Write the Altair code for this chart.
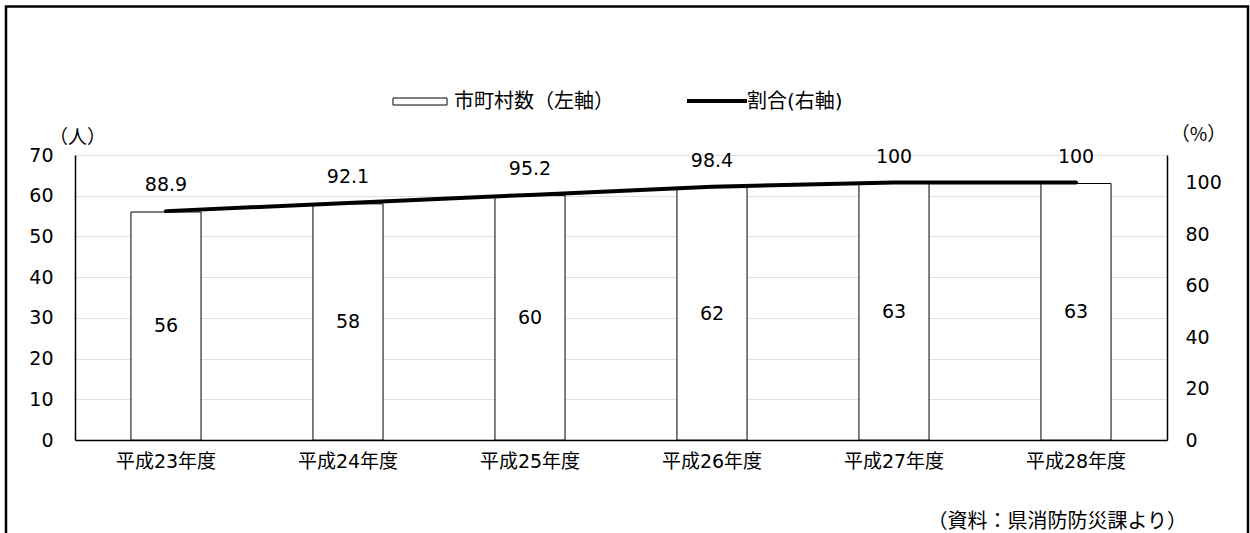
import altair as alt
import pandas as pd

categories = ["平成23年度", "平成24年度", "平成25年度", "平成26年度", "平成27年度", "平成28年度"]
counts = [56, 58, 60, 62, 63, 63]
ratios = [88.9, 92.1, 95.2, 98.4, 100, 100]
ratio_labels = ["88.9", "92.1", "95.2", "98.4", "100", "100"]

FONT = "DejaVu Sans, Noto Sans CJK JP"
CJK = "Noto Sans CJK JP"

df = pd.DataFrame({
    "cat": categories,
    "count": counts,
    "mid": [c / 2 for c in counts],
    "ratio": ratios,
    "rlabel": ratio_labels,
})

xscale = alt.Scale(domain=categories, paddingInner=0.615, paddingOuter=0.3075)
xaxis = alt.Axis(title=None, labelAngle=0, ticks=False, labelPadding=12,
                 labelFontSize=19, labelFont=FONT, labelColor="#000",
                 domainColor="#000", domainWidth=1.5, grid=False)

yleft = alt.Scale(domain=[0, 70], nice=False)
yright = alt.Scale(domain=[0, 110.7], nice=False)

left_axis = alt.Axis(title="（人）", titleAngle=0, titleX=2, titleY=-18,
                     titleAlign="center", titleBaseline="middle",
                     titleFont=CJK, titleFontSize=19, titleFontWeight="normal",
                     titleColor="#000",
                     values=[0, 10, 20, 30, 40, 50, 60, 70], ticks=False,
                     labelPadding=22, labelFontSize=19, labelFont=FONT,
                     labelColor="#000", domainColor="#000", domainWidth=1.5,
                     grid=True, gridColor="#e0e0e0", gridWidth=1)
right_axis = alt.Axis(orient="right", title="（%）", titleAngle=0, titleX=31,
                      titleY=-21, titleAlign="center", titleBaseline="middle",
                      titleFont=CJK, titleFontSize=19, titleFontWeight="normal",
                      titleColor="#000",
                      values=[0, 20, 40, 60, 80, 100], ticks=False,
                      labelPadding=18, labelFontSize=19, labelFont=FONT,
                      labelColor="#000", labelAlign="left",
                      domainColor="#000", domainWidth=1.5, grid=False)

base = alt.Chart(df)

def xenc():
    return alt.X("cat:N", scale=xscale, sort=categories, axis=xaxis)

bars = base.mark_bar(fill="white", stroke="#000", strokeWidth=1).encode(
    x=xenc(),
    y=alt.Y("count:Q", scale=yleft, axis=left_axis),
)
bar_text = base.mark_text(font=FONT, fontSize=19, color="#000").encode(
    x=xenc(),
    y=alt.Y("mid:Q", scale=yleft, axis=left_axis),
    text=alt.Text("count:Q"),
)
left = alt.layer(bars, bar_text)

line = base.mark_line(color="#000", strokeWidth=4, strokeCap="round").encode(
    x=xenc(),
    y=alt.Y("ratio:Q", scale=yright, axis=right_axis),
)
line_text = base.mark_text(font=FONT, fontSize=19, color="#000", dy=-26).encode(
    x=xenc(),
    y=alt.Y("ratio:Q", scale=yright, axis=right_axis),
    text=alt.Text("rlabel:N"),
)
right = alt.layer(line, line_text)

one = alt.Data(values=[{}])
legend_rect = alt.Chart(one).mark_rect(fill="white", stroke="#000", strokeWidth=1).encode(
    x=alt.value(318), x2=alt.value(372), y=alt.value(-57), y2=alt.value(-50))
legend_t1 = alt.Chart(one).mark_text(font=FONT, fontSize=20, align="left",
                                     baseline="middle", color="#000").encode(
    x=alt.value(379), y=alt.value(-53), text=alt.value("市町村数（左軸）"))
legend_line = alt.Chart(one).mark_rule(stroke="#000", strokeWidth=4).encode(
    x=alt.value(612), x2=alt.value(672), y=alt.value(-54))
legend_t2 = alt.Chart(one).mark_text(font=FONT, fontSize=20, align="left",
                                     baseline="middle", color="#000").encode(
    x=alt.value(672), y=alt.value(-53), text=alt.value("割合(右軸)"))
source = alt.Chart(one).mark_text(font=FONT, fontSize=20, align="right",
                                  baseline="middle", color="#000").encode(
    x=alt.value(1112), y=alt.value(367), text=alt.value("（資料：県消防防災課より）"))
frame = alt.Chart(one).mark_rect(fill="transparent", stroke="#000", strokeWidth=2.5).encode(
    x=alt.value(-69), x2=alt.value(1173), y=alt.value(-148.5), y2=alt.value(395))

chart = alt.layer(
    left, right, legend_rect, legend_t1, legend_line, legend_t2, source, frame
).resolve_scale(y="independent").properties(
    width=1092, height=285,
    autosize=alt.AutoSizeParams(type="none"),
    padding={"left": 75, "top": 155, "right": 83, "bottom": 93},
    background="white",
).configure_view(strokeWidth=0)

chart.save("out.html", embed_options={"renderer": "svg", "actions": False})
